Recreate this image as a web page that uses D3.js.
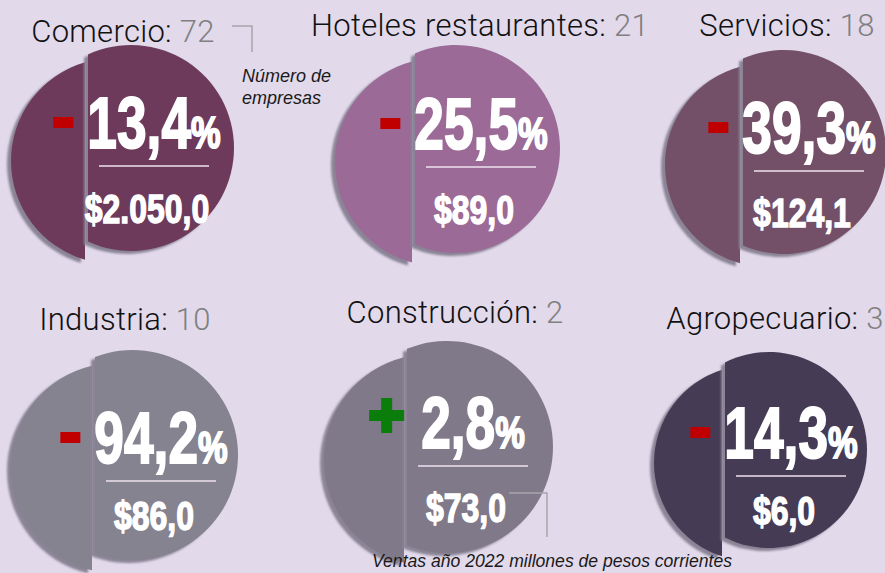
<!DOCTYPE html>
<html>
<head>
<meta charset="utf-8">
<script src="https://cdn.jsdelivr.net/npm/d3@7"></script>
<style>
  html, body { margin: 0; padding: 0; background: #e2d9eb; }
  svg { display: block; }
</style>
</head>
<body>
<div id="chart"></div>
<script>
// data
var sectors = ["Comercio", "Hoteles restaurantes", "Servicios", "Industria", "Construcción", "Agropecuario"];
var companies = [72, 21, 18, 10, 2, 3];
var changePct = [-13.4, -25.5, -39.3, -94.2, 2.8, -14.3];
var sales2022 = [2050.0, 89.0, 124.1, 86.0, 73.0, 6.0];
var colors = ["#6d3a5b", "#9b6a96", "#735067", "#858390", "#807989", "#463b55"];

var width = 885, height = 573;

// panel layout (circle centre, radius, cut distance, title anchor)
var layout = [
    {cx: 131, cy: 148, r: 103, d: 43, tx: 123, ty: 42, tdy: 0},
    {cx: 456, cy: 149, r: 104, d: 41, tx: 480, ty: 36, tdy: 0},
    {cx: 784, cy: 152, r: 102, d: 41, tx: 787, ty: 36, tdy: 1},
    {cx: 133, cy: 455, r: 105, d: 38, tx: 125, ty: 330, tdy: 8},
    {cx: 447, cy: 447, r: 106, d: 40, tx: 455, ty: 323, tdy: 1},
    {cx: 769, cy: 450, r: 98,  d: 44, tx: 775, ty: 329, tdy: 8}
];

var es = d3.formatLocale({decimal: ",", thousands: ".", grouping: [3], currency: ["$", ""]});
var fmtPct = es.format(".1f"),
    fmtSales = es.format("$,.1f");

var svg = d3.select("#chart").append("svg")
    .attr("width", width)
    .attr("height", height);

svg.append("rect").attr("width", width).attr("height", height).attr("fill", "#e2d9eb");

var defs = svg.append("defs");
defs.append("filter").attr("id", "soft")
    .attr("x", "-10%").attr("y", "-10%").attr("width", "120%").attr("height", "120%")
    .append("feGaussianBlur").attr("stdDeviation", 0.8);

var heavy = "'Liberation Sans', Arial, sans-serif";
var shadowColor = "#8a8496";
var lshift = {x: -17, y: 13}, gap = 3;
var squeeze = 0.74;

// right piece: large segment of the circle to the right of the cut
function rightPiece(p) {
    var cut = p.cx - p.d,
        h = Math.sqrt(p.r * p.r - p.d * p.d);
    var path = d3.path();
    path.moveTo(cut, p.cy - h);
    path.arc(p.cx, p.cy, p.r, Math.atan2(-h, -p.d), Math.atan2(h, -p.d), false);
    path.closePath();
    return path.toString();
}

// left piece: small segment of a displaced circle, left of the cut
function leftPiece(p) {
    var ccx = p.cx + lshift.x, ccy = p.cy + lshift.y,
        xcut = p.cx - p.d - gap,
        e = xcut - ccx,
        h = Math.sqrt(p.r * p.r - e * e);
    var path = d3.path();
    path.moveTo(xcut, ccy - h);
    path.arc(ccx, ccy, p.r, Math.atan2(-h, e), Math.atan2(h, e), true);
    path.closePath();
    return path.toString();
}

var panels = svg.selectAll("g.panel")
    .data(sectors.map(function (s, i) {
        return {name: s, n: companies[i], chg: changePct[i], sales: sales2022[i], color: colors[i], p: layout[i]};
    }))
    .enter().append("g")
    .attr("class", "panel");

panels.each(function (d) {
    var g = d3.select(this), p = d.p;
    var cut = p.cx - p.d;

    g.append("path").attr("d", leftPiece(p))
        .attr("transform", "translate(-4,3)")
        .attr("fill", shadowColor).attr("filter", "url(#soft)");
    g.append("path").attr("d", leftPiece(p)).attr("fill", d.color);
    g.append("path").attr("d", rightPiece(p))
        .attr("transform", "translate(-4,3)")
        .attr("fill", shadowColor).attr("filter", "url(#soft)");
    g.append("path").attr("d", rightPiece(p)).attr("fill", d.color);

    // title
    var t = g.append("text")
        .attr("x", p.tx).attr("y", p.ty)
        .attr("text-anchor", "middle")
        .style("font-family", "Roboto, 'Liberation Sans', sans-serif")
        .style("font-weight", 300)
        .style("font-size", "31px")
        .style("letter-spacing", "0.3px");
    t.append("tspan").attr("fill", "#111").text(d.name + ": ");
    t.append("tspan").attr("fill", "#808080").text(d.n);

    // percentage
    var tcx = cut + 66, base = p.cy + p.tdy;
    var pct = g.append("g")
        .attr("transform", "translate(" + tcx + "," + base + ") scale(" + squeeze + ",1)")
        .append("text")
        .attr("text-anchor", "middle")
        .attr("fill", "#fff")
        .attr("stroke", "#fff").attr("stroke-width", 2)
        .style("font-family", heavy)
        .style("font-weight", "bold");
    pct.append("tspan").style("font-size", "72px").text(fmtPct(Math.abs(d.chg)));
    pct.append("tspan").style("font-size", "45px").text("%");

    var tw = pct.node().getComputedTextLength() * squeeze;
    var left = tcx - tw / 2;

    // sign
    if (d.chg < 0) {
        g.append("rect")
            .attr("x", left - 34).attr("y", base - 31)
            .attr("width", 20).attr("height", 11)
            .attr("fill", "#c00000");
    } else {
        var sx = left - 52, sy = base - 50;
        g.append("rect").attr("x", sx).attr("y", sy + 12).attr("width", 35).attr("height", 11).attr("fill", "#0a7d0a");
        g.append("rect").attr("x", sx + 12).attr("y", sy).attr("width", 11).attr("height", 35).attr("fill", "#0a7d0a");
    }

    // separator
    g.append("line")
        .attr("x1", tcx - 55).attr("x2", tcx + 55)
        .attr("y1", base + 18).attr("y2", base + 18)
        .attr("stroke", "#eee2ee").attr("stroke-width", 1.3);

    // sales
    g.append("g")
        .attr("transform", "translate(" + (cut + 59) + "," + (p.cy + 75) + ") scale(" + (squeeze + 0.04) + ",1)")
        .append("text")
        .attr("text-anchor", "middle")
        .attr("fill", "#fff")
        .attr("stroke", "#fff").attr("stroke-width", 1.4)
        .style("font-family", heavy)
        .style("font-weight", "bold")
        .style("font-size", "41px")
        .text(fmtSales(d.sales));
});

// annotations
var note = svg.append("g")
    .style("font-family", "'Liberation Sans', Arial, sans-serif")
    .style("font-style", "italic")
    .attr("fill", "#1a1a1a");

svg.append("path").attr("d", "M232,26H252V52")
    .attr("fill", "none").attr("stroke", "#a8a4ac").attr("stroke-width", 1.5);
note.append("text").attr("x", 242).attr("y", 82).style("font-size", "18px").text("Número de");
note.append("text").attr("x", 242).attr("y", 104).style("font-size", "18px").text("empresas");

svg.append("path").attr("d", "M509,493H547V537")
    .attr("fill", "none").attr("stroke", "#a8a4ac").attr("stroke-width", 1.5);
note.append("text").attr("x", 372).attr("y", 567).style("font-size", "18px")
    .attr("textLength", 360).attr("lengthAdjust", "spacingAndGlyphs")
    .text("Ventas año 2022 millones de pesos corrientes");
</script>
</body>
</html>
